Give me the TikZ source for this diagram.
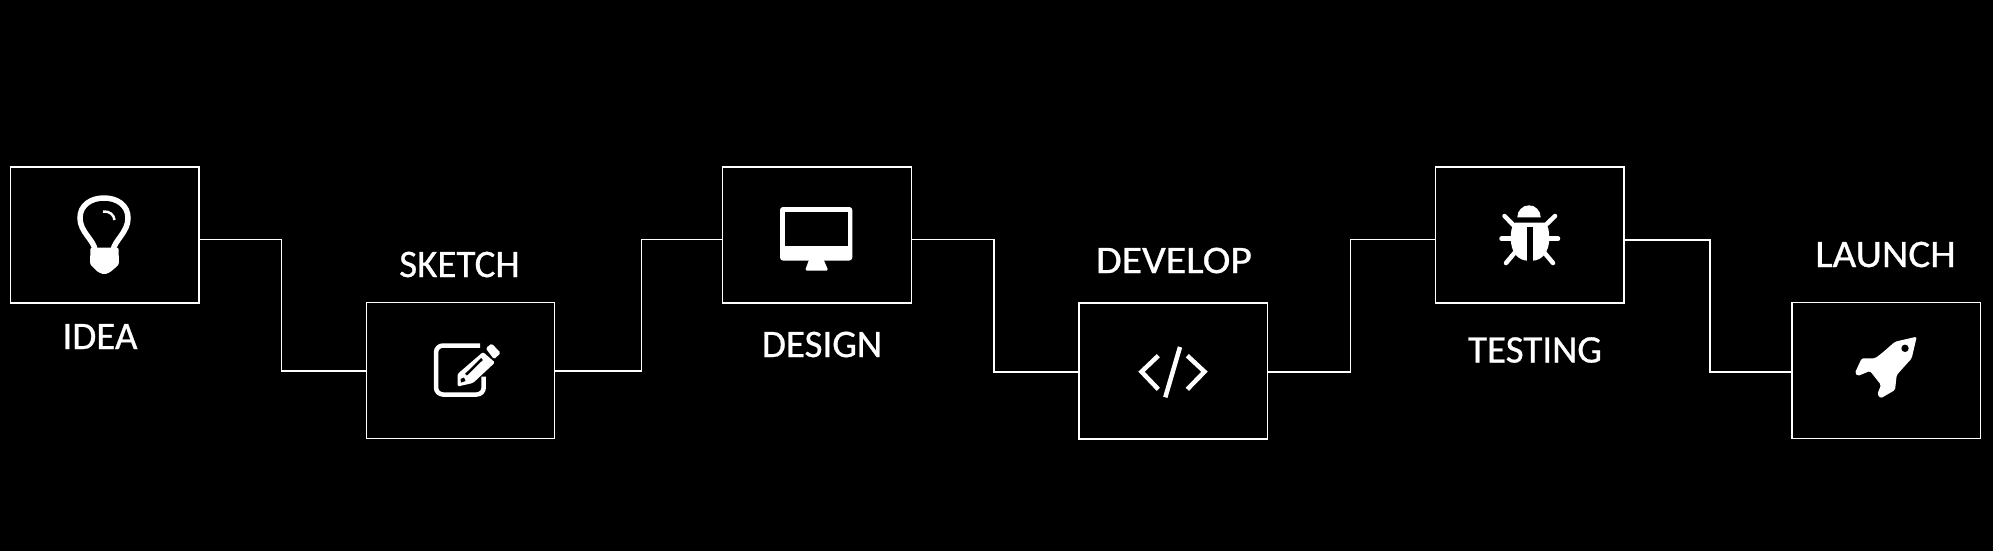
\documentclass[tikz,border=0pt]{standalone}
\usepackage{fontspec}
\newfontfamily\stagefont[FakeBold=0.7]{Carlito}
\tikzset{
    stagebox/.style={draw=white, line width=1.3pt, minimum width=188.5pt, minimum height=136pt, inner sep=0pt},
    stagetext/.style={text=white, inner sep=0pt, font=\stagefont\fontsize{39}{42}\selectfont},
    link/.style={draw=white, line width=1.5pt},
    iconline/.style={draw=white, line width=4.5pt},
    iconfill/.style={fill=white, rounded corners=1.5pt}
}
\begin{document}
\begin{tikzpicture}[x=1pt, y=-1pt]
    \useasboundingbox (0,0) rectangle (1993,550);
    \fill[black] (-5,-5) rectangle (1998,555);
    \node[stagebox] (idea) at (104.8,235) {};
    \node[stagebox] (sketch) at (460.5,370.5) {};
    \node[stagebox] (design) at (817,235) {};
    \node[stagebox] (develop) at (1173.3,371) {};
    \node[stagebox] (testing) at (1529.8,235) {};
    \node[stagebox] (launch) at (1886.2,370.5) {};
    \node[stagetext] (ideatext) at (100,336.5) {IDEA};
    \node[stagetext] (sketchtext) at (459.5,264.5) {SKETCH};
    \node[stagetext] (designtext) at (822,344.5) {DESIGN};
    \node[stagetext] (developtext) at (1174,260.5) {\scalebox{1.07}[1]{DEVELOP}};
    \node[stagetext] (testingtext) at (1535,350) {TESTING};
    \node[stagetext] (launchtext) at (1885.5,254.5) {\scalebox{1.05}[1]{LAUNCH}};
    \draw[link] ([yshift=-4.5pt]idea.east) -- ++(82,0) |- ([yshift=-0.5pt]sketch.west);
    \draw[link] ([yshift=-0.5pt]sketch.east) -- ++(86,0) |- ([yshift=-4.5pt]design.west);
    \draw[link] ([yshift=-4.5pt]design.east) -- ++(82,0) |- ([yshift=-1pt]develop.west);
    \draw[link] ([yshift=-1pt]develop.east) -- ++(82.5,0) |- ([yshift=-4.5pt]testing.west);
    \draw[link] ([yshift=-5pt]testing.east) -- ++(85.5,0) |- ([yshift=-1.5pt]launch.west);
    % bulb
    \draw[iconline, line width=5.5pt] (95,250) .. controls (94,240) and (80,232) .. (80,218) .. controls (80,205) and (91,198) .. (104,198) .. controls (117,198) and (128,205) .. (128,218) .. controls (128,232) and (115,240) .. (113,250);
    \fill[iconfill] (90.5,247.5) -- (118.5,247.5) -- (119,264) -- (117.3,266) -- (110,272.3) -- (104.3,274.5) -- (98.3,272.3) -- (91.7,266) -- (90,264) -- cycle;
    \draw[iconline, line width=2.5pt] (103,211.5) .. controls (110,211) and (114,215) .. (114.5,220);
    % note and pencil
    \draw[iconline, rounded corners=7pt] (480,345.5) -- (436,345.5) -- (436,394.5) -- (483.7,394.5) -- (483.7,376.5);
    \fill[iconfill] (485.7,348.3) -- (491.7,343.5) -- (500.7,353) -- (494,359.3) -- cycle;
    \fill[iconfill] (483,352) -- (495,362.5) -- (473,383) -- (457.5,386.5) -- (457.5,374) -- cycle;
    \draw[black, line width=2.5pt] (466,374.7) -- (482,359);
    \fill[black] (460.5,379) -- (464,377.5) -- (465.5,381) -- (461,382.5) -- cycle;
    % monitor
    \fill[iconfill, rounded corners=3pt] (780,207) rectangle (852.3,260.5);
    \fill[black] (785,211.7) rectangle (847.7,246);
    \fill[iconfill] (809.3,259) -- (823.3,259) -- (828.3,270.5) -- (805,270.5) -- cycle;
    % code
    \draw[iconline] (1158.3,355.7) -- (1141.5,371.7) -- (1158.3,389.3);
    \draw[iconline] (1180,347) -- (1165.3,397.3);
    \draw[iconline] (1187.3,355.7) -- (1204.5,371.7) -- (1187.3,389.3);
    % bug
    \fill[white] (1517.3,217.3) arc[start angle=180, end angle=360, x radius=11.7, y radius=12] -- cycle;
    \fill[white] (1515,222.7) -- (1545,222.7) .. controls (1548.5,226) and (1549.3,232) .. (1549.3,238) .. controls (1549.3,252) and (1542,260.7) .. (1532,260.7) -- (1528,260.7) .. controls (1518,260.7) and (1510.7,252) .. (1510.7,238) .. controls (1510.7,232) and (1511.5,226) .. (1515,222.7) -- cycle;
    \fill[black] (1526.7,227.3) rectangle (1532.7,261);
    \draw[iconline, line cap=round] (1504.5,216) -- (1515,226.7);
    \draw[iconline, line cap=round] (1555,216) -- (1544,226.7);
    \draw[iconline, line cap=round] (1501.5,238.7) -- (1512,238.7);
    \draw[iconline, line cap=round] (1558,238.7) -- (1548,238.7);
    \draw[iconline, line cap=round] (1506,263) -- (1515,252.3);
    \draw[iconline, line cap=round] (1553,263) -- (1544,252.3);
    % rocket
    \fill[iconfill] (1916.7,336.7) -- (1895,341.7) -- (1881.7,353.3) -- (1875,358.3) -- (1861.7,358.3) -- (1855,372.7) -- (1857.7,376) -- (1870,371) -- (1881,385) -- (1877.3,394.3) -- (1880.7,398.3) -- (1895,390) -- (1896.7,375) -- (1911.7,358.3) -- cycle;
    \fill[black] (1905,348.3) circle (3.7);
\end{tikzpicture}
\end{document}
